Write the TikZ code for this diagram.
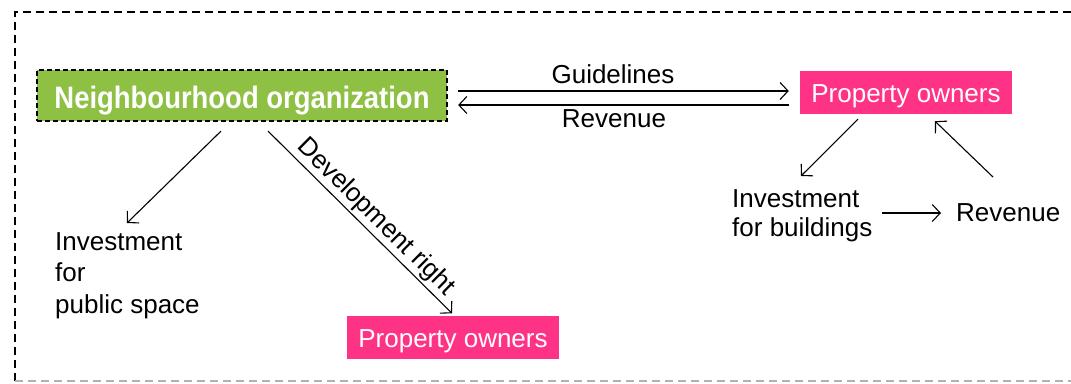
\documentclass[tikz,border=0pt]{standalone}
\usepackage{fontspec}
\usepackage{graphicx}
\setmainfont{Liberation Sans}
\usetikzlibrary{arrows.meta,calc}
\definecolor{orggreen}{RGB}{141,192,67}
\definecolor{ownpink}{RGB}{255,51,133}
\definecolor{framegray}{RGB}{178,178,178}
\begin{document}
\begin{tikzpicture}[x=1pt,y=-1pt,
  txt/.style={inner sep=0pt,font=\fontsize{26}{29}\selectfont},
  arr/.style={line width=1.1pt,-{Straight Barb[length=8pt,width=17pt,line width=1.1pt]}},
  ownbox/.style={fill=ownpink,text=white,inner sep=0pt,minimum width=212pt,minimum height=43pt,
    text height=20pt,text depth=0pt,font=\fontsize{26}{29}\selectfont},
  orgbox/.style={fill=orggreen,draw=black,line width=2.2pt,dash pattern=on 5pt off 3pt,
    text=white,inner sep=0pt,minimum width=410pt,minimum height=51pt,text height=25pt,text depth=0pt},
  frameline/.style={line width=2pt,dash pattern=on 8pt off 5pt}]
\useasboundingbox (0,0) rectangle (1071,383);
% outer frame
\draw[frameline] (1071,12) -- (15,12) -- (15,383);
\draw[frameline,draw=framegray,line width=1.5pt] (15,381) -- (1071,381);
% nodes
\node[orgbox] (no) at (242,95.5)
  {\resizebox{375pt}{\height}{\fontsize{31}{31}\selectfont\bfseries Neighbourhood organization}};
\node[ownbox] (po1) at (906,92.5) {Property owners};
\node[ownbox] (po2) at (453,337) {Property owners};
\node[txt,anchor=base] (gl) at (613,83) {Guidelines};
\node[txt,anchor=base] (rv1) at (614,127) {Revenue};
\node[txt,anchor=base west,align=left] (ib) at (732,236) {Investment\\for buildings};
\node[txt,anchor=base west] (rv2) at (956,221) {Revenue};
\node[txt,anchor=base west,align=left,font=\fontsize{26}{31.5}\selectfont] (ip) at (55,313) {Investment\\for\\public space};
% connectors
\coordinate (g1) at ($(no.east)+(10,-4.5)$);
\draw[arr,shorten >=11pt] (g1) -- (g1 -| po1.west);
\coordinate (r1) at ($(no.east)+(10,9.5)$);
\draw[arr,shorten <=11pt] (r1 -| po1.west) -- (r1);
\draw[arr] ($(po1.south)+(-48,5)$) -- ($(ib.base west)+(69,-60)$);
\draw[arr] ($(rv2.base west)+(37,-44)$) -- ($(po1.south)+(29,7)$);
\draw[arr] ($(ib.base west)+(150,-23)$) -- ($(rv2.base west)+(-15,-8)$);
\draw[arr] ($(no.south)+(-21,9)$) -- ($(ip.base west)+(72,-90)$);
\draw[arr] ($(no.south)+(26,9)$) -- node[txt,sloped,above,pos=0.53,inner sep=2pt] {Development right} ($(po2.north)+(-1,-2)$);
\end{tikzpicture}
\end{document}
